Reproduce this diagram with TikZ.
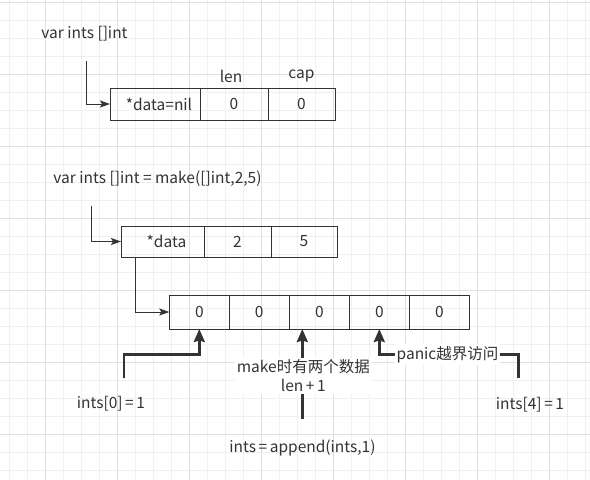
\documentclass[tikz,border=0pt]{standalone}
\usepackage{fontspec}
\setmainfont{Noto Sans CJK SC}
\usetikzlibrary{arrows.meta}
\definecolor{gmin}{HTML}{F0F0F0}
\definecolor{gmaj}{HTML}{E0E0E0}
\definecolor{ink}{HTML}{333333}
\begin{document}
\begin{tikzpicture}[x=1pt,y=-1pt,
  txt/.style={text=ink,font=\fontsize{15.5}{19}\selectfont,inner sep=0pt},
  cell/.style={draw=ink,line width=1pt,inner sep=0pt,outer sep=0pt,anchor=north west,text=ink,font=\fontsize{15.5}{19}\selectfont},
  thinarr/.style={draw=ink,line width=1pt,-{Stealth[length=10pt,width=7pt,inset=2pt]}},
  thickarr/.style={draw=ink,line width=2.5pt,-{Stealth[length=13pt,width=11pt,inset=1.5pt]}},
  wlbl/.style={txt,fill=white,inner sep=2pt,align=center}]
\useasboundingbox (0,0) rectangle (590,480);
\fill[white] (0,0) rectangle (590,480);
% grid
\foreach \k in {0,...,32}{\draw[gmin,line width=1pt] (9+18*\k,0) -- (9+18*\k,480);}
\foreach \k in {0,...,26}{\draw[gmin,line width=1pt] (0,2+18*\k) -- (590,2+18*\k);}
\foreach \x in {45,117,...,549}{\draw[gmaj,line width=1pt] (\x,0) -- (\x,480);}
\foreach \y in {2,74,...,434}{\draw[gmaj,line width=1pt] (0,\y) -- (590,\y);}
% first slice
\node[txt] (t1) at (84.5,34) {var ints []int};
\node[cell,minimum width=90pt,minimum height=32pt] (a1) at (110,88) {\hspace*{8pt}*data=nil};
\node[cell,minimum width=68pt,minimum height=32pt] (a2) at (200,88) {0};
\node[cell,minimum width=67pt,minimum height=32pt] (a3) at (268,88) {0};
\node[txt] (len) at (231,76) {len};
\node[txt] (cap) at (301.5,76) {cap};
\coordinate (s1) at (86,61);
\draw[thinarr] (s1) |- (a1.west);
% second slice
\node[txt] (t2) at (157.5,179) {var ints []int = make([]int,2,5)};
\node[cell,minimum width=83pt,minimum height=31pt] (b1) at (121,226) {\hspace*{8pt}*data};
\node[cell,minimum width=67pt,minimum height=31pt] (b2) at (204,226) {2};
\node[cell,minimum width=66pt,minimum height=31pt] (b3) at (271,226) {5};
\coordinate (s2) at (91.3,205.7);
\draw[thinarr] (s2) |- (b1.west);
% array
\foreach \i in {0,...,4}{
  \node[cell,minimum width=60pt,minimum height=34pt] (c\i) at (169.3+60*\i,295) {0};
}
\draw[thinarr] ([xshift=14pt]b1.south west) |- (c0.west);
% ints[0]
\node[txt] (i0) at (111,404) {ints[0]\,=\,1};
\coordinate (q0) at (124,378);
\draw[thickarr] (q0) -- (124,354.7) -| (c0.south);
% append
\node[txt] (ap) at (302.5,447.7) {ints\,=\,append(ints,1)};
\coordinate (q2) at (302.3,419);
\draw[thickarr] (q2) -- (q2 |- c2.south);
\node[wlbl] (ml) at (303.3,376) {make时有两个数据\\len\,+\,1};
% panic
\node[txt] (i4) at (530,405) {ints[4]\,=\,1};
\coordinate (q3) at (518.3,378.3);
\draw[thickarr] (q3) -- (518.3,354.3) -- (c3.south |- 0,354.3) -- (c3.south);
\node[wlbl] (pl) at (447.5,354.3) {panic越界访问};
\end{tikzpicture}
\end{document}
